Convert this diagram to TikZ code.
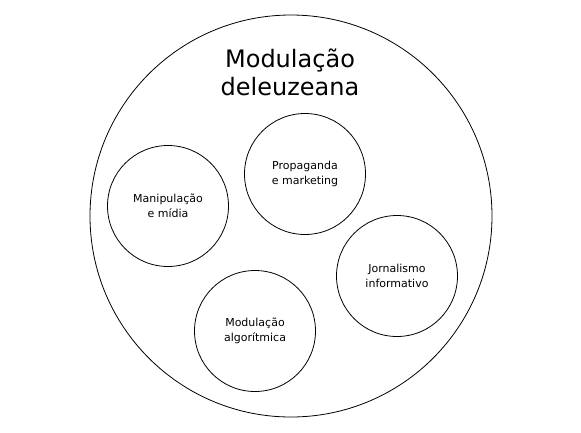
\documentclass[tikz,border=0pt]{standalone}
\usepackage{fontspec}
\setmainfont{DejaVu Sans}
\usepackage{tikz}
\usetikzlibrary{positioning}

\begin{document}
\begin{tikzpicture}[
    x=1pt, y=-1pt,
    outer/.style={draw, circle, minimum size=402pt, line width=0.8pt},
    bubble/.style={draw, circle, minimum size=121pt, line width=0.8pt, align=center, font=\fontsize{11}{15}\selectfont},
    mytitle/.style={align=center, font=\fontsize{24}{28}\selectfont}
]
\useasboundingbox (0,0) rectangle (581,432);
\node[outer] (D) at (291,216) {};
\node[mytitle] (T) at (290,72) {Modulação\\deleuzeana};
\node[bubble] (M) at (168,206) {Manipulação\\e mídia};
\node[bubble] (P) at (305,174) {Propaganda\\e marketing};
\node[bubble] (J) at (397,276) {Jornalismo\\informativo};
\node[bubble] (A) at (255,331) {Modulação\\algorítmica};
\end{tikzpicture}
\end{document}
